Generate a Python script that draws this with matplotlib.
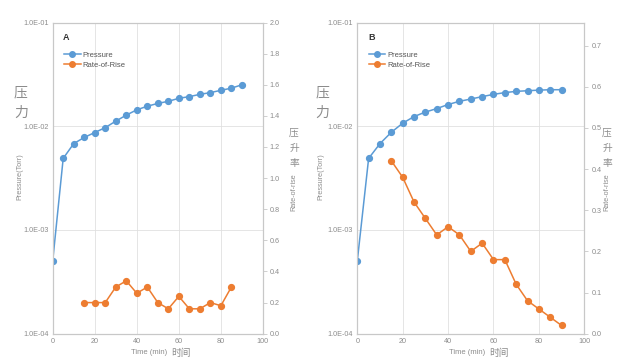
import matplotlib.pyplot as plt
from matplotlib.lines import Line2D

plt.rcParams['font.family'] = ['Liberation Sans Narrow', 'Liberation Sans', 'DejaVu Sans']

BLUE = '#5b9bd5'
ORANGE = '#ed7d31'
GRAY = '#8c8c8c'
CJK = ['Noto Sans CJK SC', 'DejaVu Sans']

time = [0, 5, 10, 15, 20, 25, 30, 35, 40, 45, 50, 55, 60, 65, 70, 75, 80, 85, 90]
pressure_a = [5.0e-4, 4.9e-3, 6.8e-3, 7.8e-3, 8.7e-3, 9.7e-3, 1.12e-2, 1.28e-2, 1.44e-2, 1.56e-2,
              1.66e-2, 1.74e-2, 1.86e-2, 1.93e-2, 2.03e-2, 2.11e-2, 2.22e-2, 2.33e-2, 2.51e-2]
pressure_b = [5.0e-4, 4.9e-3, 6.8e-3, 8.75e-3, 1.07e-2, 1.24e-2, 1.37e-2, 1.48e-2, 1.62e-2, 1.74e-2,
              1.83e-2, 1.93e-2, 2.03e-2, 2.11e-2, 2.17e-2, 2.20e-2, 2.23e-2, 2.25e-2, 2.25e-2]

ror_time_a = [15, 20, 25, 30, 35, 40, 45, 50, 55, 60, 65, 70, 75, 80, 85]
ror_a = [0.2, 0.2, 0.2, 0.3, 0.34, 0.26, 0.3, 0.2, 0.16, 0.24, 0.16, 0.16, 0.2, 0.18, 0.3]
ror_time_b = [15, 20, 25, 30, 35, 40, 45, 50, 55, 60, 65, 70, 75, 80, 85, 90]
ror_b = [0.42, 0.38, 0.32, 0.28, 0.24, 0.26, 0.24, 0.2, 0.22, 0.18, 0.18, 0.12, 0.08, 0.06, 0.04, 0.02]

pressure_ticks = [1e-4, 1e-3, 1e-2, 1e-1]
pressure_labels = ['1.0E-04', '1.0E-03', '1.0E-02', '1.0E-01']
x_ticks = [0, 20, 40, 60, 80, 100]


def panel(rect, letter, pres, rt, ror, rmax, rticks):
    ax = fig.add_axes(rect)
    ax.plot(time, pres, color=BLUE, marker='o', ms=4.2, lw=1.1, zorder=3)
    ax.set_yscale('log')
    ax.set_ylim(1e-4, 1e-1)
    ax.set_xlim(0, 100)
    ax.set_yticks(pressure_ticks)
    ax.set_yticklabels(pressure_labels)
    ax.minorticks_off()
    ax.set_xticks(x_ticks)
    ax.grid(True, color='#e0e0e0', lw=0.6)
    ax.set_axisbelow(True)
    ax.tick_params(labelsize=5.2, colors=GRAY, length=0, pad=3)
    for s in ax.spines.values():
        s.set_color('#c8c8c8')
        s.set_linewidth(0.8)

    ax2 = ax.twinx()
    ax2.plot(rt, ror, color=ORANGE, marker='o', ms=4.2, lw=1.1, zorder=3)
    ax2.set_ylim(0, rmax)
    ax2.set_yticks(rticks)
    ax2.set_yticklabels([f'{t:.1f}' for t in rticks])
    ax2.tick_params(labelsize=5.2, colors=GRAY, length=3, width=0.6, pad=2)
    ax2.tick_params(axis='y', color='#c8c8c8')
    for s in ax2.spines.values():
        s.set_color('#c8c8c8')
        s.set_linewidth(0.8)

    ax.text(0.05, 0.965, letter, transform=ax.transAxes, fontsize=6.5, fontweight='bold',
            color='#333333', va='top', ha='left')
    handles = [Line2D([], [], color=BLUE, marker='o', ms=4, lw=1.1),
               Line2D([], [], color=ORANGE, marker='o', ms=4, lw=1.1)]
    ax.legend(handles, ['Pressure', 'Rate-of-Rise'], loc='upper left',
              bbox_to_anchor=(0.02, 0.93), frameon=False, fontsize=5.5,
              handlelength=2.2, handletextpad=0.3, labelspacing=0.4, labelcolor='#555555')
    return ax, ax2


fig = plt.figure(figsize=(6.22, 3.61), dpi=100)

panel([0.0847, 0.0756, 0.338, 0.862], 'A', pressure_a, ror_time_a, ror_a, 2.0,
      [0.0, 0.2, 0.4, 0.6, 0.8, 1.0, 1.2, 1.4, 1.6, 1.8, 2.0])
panel([0.5744, 0.0756, 0.365, 0.862], 'B', pressure_b, ror_time_b, ror_b, 0.756,
      [0.0, 0.1, 0.2, 0.3, 0.4, 0.5, 0.6, 0.7])


def side_labels(x_left, x_right, x_mid):
    W, H = 622.0, 361.0
    fig.text(x_left / W, 1 - 92 / H, '压', fontsize=10, color=GRAY, family=CJK, ha='center', va='center')
    fig.text(x_left / W, 1 - 113 / H, '力', fontsize=10, color=GRAY, family=CJK, ha='center', va='center')
    fig.text((x_left - 1) / W, 1 - 177 / H, 'Pressure(Torr)', fontsize=5.2, color=GRAY,
             rotation=90, ha='center', va='center')
    for i, ch in enumerate('压升率'):
        fig.text(x_right / W, 1 - (133 + 15 * i) / H, ch, fontsize=7, color=GRAY, family=CJK,
                 ha='center', va='center')
    fig.text(x_right / W, 1 - 192 / H, 'Rate-of-rise', fontsize=5.2, color=GRAY,
             rotation=90, ha='center', va='center')
    fig.text(x_mid / W, 1 - 353 / H, 'Time (min)  ', fontsize=5.5, color=GRAY, ha='right', va='center')
    fig.text(x_mid / W, 1 - 353 / H, '时间', fontsize=7, color=GRAY, family=CJK, ha='left', va='center')


side_labels(21, 294, 171)
side_labels(322, 607, 489)

fig.savefig('out.png', dpi=100)
